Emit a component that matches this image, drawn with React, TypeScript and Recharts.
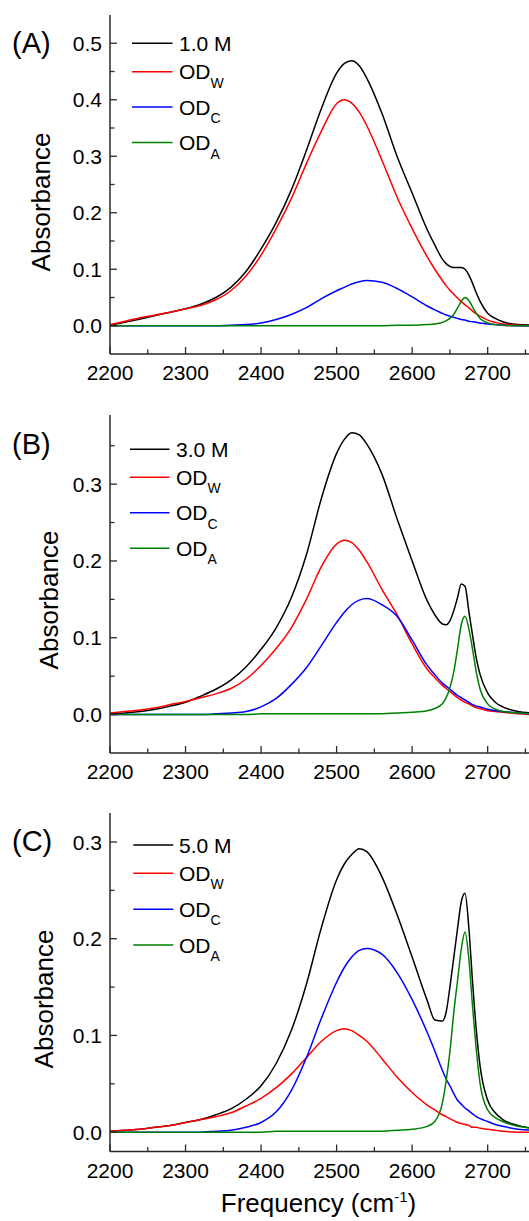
import React from "react";
import { LineChart, Line, XAxis, YAxis } from "recharts";

// ---------- data ----------
const frequency = [2200, 2220, 2240, 2260, 2280, 2300, 2320, 2340, 2360, 2380, 2400, 2420, 2440, 2460, 2480, 2500, 2510, 2520, 2530, 2540, 2560, 2580, 2600, 2620, 2630, 2640, 2645, 2650, 2655, 2660, 2665, 2670, 2675, 2680, 2685, 2690, 2700, 2710, 2720, 2740, 2760];

// Panel A (1.0 M)
const totalA = [0.001, 0.006, 0.012, 0.018, 0.024, 0.030, 0.038, 0.050, 0.068, 0.096, 0.136, 0.183, 0.240, 0.310, 0.385, 0.447, 0.464, 0.469, 0.460, 0.438, 0.376, 0.300, 0.235, 0.170, 0.143, 0.118, 0.110, 0.105, 0.103, 0.103, 0.103, 0.100, 0.090, 0.075, 0.058, 0.043, 0.022, 0.013, 0.007, 0.002, 0.001];
const odWA = [0.002, 0.008, 0.014, 0.019, 0.024, 0.030, 0.036, 0.046, 0.062, 0.088, 0.125, 0.172, 0.225, 0.287, 0.345, 0.393, 0.400, 0.394, 0.378, 0.354, 0.293, 0.228, 0.172, 0.122, 0.100, 0.080, 0.071, 0.063, 0.056, 0.049, 0.043, 0.037, 0.032, 0.026, 0.021, 0.017, 0.010, 0.006, 0.003, 0.001, 0];
const odCA = [0, 0, 0, 0, 0, 0, 0, 0, 0.001, 0.002, 0.005, 0.011, 0.020, 0.032, 0.048, 0.062, 0.068, 0.074, 0.078, 0.080, 0.077, 0.066, 0.051, 0.035, 0.028, 0.022, 0.019, 0.017, 0.015, 0.013, 0.011, 0.010, 0.008, 0.007, 0.006, 0.005, 0.003, 0.002, 0.001, 0, 0];
const odAA = [0, 0, 0, 0, 0, 0, 0, 0, 0, 0, 0, 0, 0, 0, 0, 0, 0, 0, 0, 0, 0, 0.001, 0.001, 0.002, 0.003, 0.006, 0.009, 0.013, 0.020, 0.031, 0.043, 0.050, 0.045, 0.033, 0.022, 0.013, 0.005, 0.002, 0.001, 0, 0];

// Panel B (3.0 M)
const totalB = [0.001, 0.002, 0.004, 0.007, 0.011, 0.016, 0.024, 0.033, 0.045, 0.062, 0.085, 0.113, 0.152, 0.208, 0.282, 0.340, 0.358, 0.367, 0.364, 0.352, 0.313, 0.255, 0.200, 0.148, 0.130, 0.118, 0.117, 0.122, 0.135, 0.152, 0.170, 0.167, 0.135, 0.103, 0.073, 0.052, 0.028, 0.016, 0.010, 0.004, 0.002];
const odWB = [0.002, 0.004, 0.006, 0.009, 0.013, 0.017, 0.022, 0.027, 0.034, 0.046, 0.064, 0.086, 0.113, 0.150, 0.193, 0.222, 0.227, 0.224, 0.214, 0.199, 0.163, 0.130, 0.092, 0.059, 0.048, 0.038, 0.034, 0.030, 0.026, 0.022, 0.019, 0.016, 0.014, 0.011, 0.009, 0.008, 0.005, 0.004, 0.003, 0.001, 0];
const odCB = [0, 0, 0, 0, 0, 0, 0, 0.001, 0.002, 0.004, 0.010, 0.021, 0.039, 0.061, 0.090, 0.120, 0.133, 0.143, 0.149, 0.151, 0.143, 0.128, 0.097, 0.064, 0.052, 0.041, 0.037, 0.033, 0.029, 0.025, 0.022, 0.019, 0.016, 0.013, 0.011, 0.010, 0.007, 0.005, 0.004, 0.002, 0.001];
const odAB = [0, 0, 0, 0, 0, 0, 0, 0, 0, 0, 0.001, 0.001, 0.001, 0.001, 0.001, 0.001, 0.001, 0.001, 0.001, 0.001, 0.001, 0.002, 0.003, 0.005, 0.008, 0.014, 0.022, 0.035, 0.055, 0.085, 0.117, 0.128, 0.112, 0.085, 0.055, 0.033, 0.014, 0.007, 0.004, 0.002, 0.001];

// Panel C (5.0 M)
const totalC = [0.001, 0.002, 0.003, 0.005, 0.007, 0.010, 0.013, 0.018, 0.024, 0.034, 0.048, 0.071, 0.105, 0.153, 0.212, 0.261, 0.277, 0.287, 0.293, 0.290, 0.264, 0.225, 0.181, 0.136, 0.116, 0.115, 0.124, 0.150, 0.180, 0.210, 0.238, 0.247, 0.212, 0.155, 0.105, 0.068, 0.033, 0.020, 0.013, 0.007, 0.004];
const odWC = [0.001, 0.002, 0.003, 0.005, 0.007, 0.010, 0.013, 0.016, 0.020, 0.027, 0.035, 0.046, 0.060, 0.077, 0.094, 0.105, 0.107, 0.105, 0.100, 0.094, 0.076, 0.057, 0.041, 0.028, 0.023, 0.018, 0.016, 0.014, 0.012, 0.010, 0.009, 0.008, 0.007, 0.005, 0.005, 0.004, 0.003, 0.002, 0.001, 0, 0];
const odCC = [0, 0, 0, 0, 0, 0, 0, 0.001, 0.002, 0.005, 0.010, 0.021, 0.043, 0.077, 0.118, 0.155, 0.170, 0.181, 0.188, 0.190, 0.184, 0.165, 0.137, 0.103, 0.084, 0.064, 0.055, 0.048, 0.040, 0.033, 0.029, 0.025, 0.022, 0.019, 0.016, 0.014, 0.011, 0.008, 0.006, 0.003, 0.002];
const odAC = [0, 0, 0, 0, 0, 0, 0, 0, 0, 0, 0, 0.001, 0.001, 0.001, 0.001, 0.001, 0.001, 0.001, 0.001, 0.001, 0.001, 0.002, 0.003, 0.006, 0.011, 0.030, 0.053, 0.083, 0.123, 0.156, 0.189, 0.207, 0.180, 0.130, 0.085, 0.050, 0.023, 0.015, 0.011, 0.006, 0.004];

// ticks / labels
const xMajorTicks = [2200, 2300, 2400, 2500, 2600, 2700];
const xMinorTicks = [2250, 2350, 2450, 2550, 2650, 2750];
const yTicksA = [0, 0.05, 0.1, 0.15, 0.2, 0.25, 0.3, 0.35, 0.4, 0.45, 0.5];
const yTicksB = [0, 0.05, 0.1, 0.15, 0.2, 0.25, 0.3, 0.35];
const yTicksC = [0, 0.05, 0.1, 0.15, 0.2, 0.25, 0.3];
const concLabels = ["1.0 M", "3.0 M", "5.0 M"];
const panelLetters = ["(A)", "(B)", "(C)"];
const componentNames = ["W", "C", "A"];
const seriesColors = ["#000000", "#ff0000", "#0000ff", "#008000"];

const FONT = '"Liberation Sans", Arial, Helvetica, sans-serif';
const AXIS = "#2a2a2a";

const isMajorY = (v: number) => Math.abs(v * 10 - Math.round(v * 10)) < 1e-6;

function XTick(props: any) {
  const { x, y, payload } = props;
  const v = payload.value;
  const major = xMajorTicks.includes(v);
  return (
    <g>
      <line x1={x} y1={y} x2={x} y2={y - (major ? 7 : 4.5)} stroke={AXIS} strokeWidth={1.3} />
      {major && (
        <text x={x} y={y + 26} textAnchor="middle" fontSize={21} fontFamily={FONT} fill="#000">
          {v}
        </text>
      )}
    </g>
  );
}

function YTick(props: any) {
  const { x, y, payload } = props;
  const v = payload.value;
  const major = isMajorY(v);
  return (
    <g>
      <line x1={x} y1={y} x2={x + (major ? 7 : 4.5)} y2={y} stroke={AXIS} strokeWidth={1.3} />
      {major && (
        <text x={x - 8} y={y + 7.5} textAnchor="end" fontSize={21} fontFamily={FONT} fill="#000">
          {v.toFixed(1)}
        </text>
      )}
    </g>
  );
}

type PanelProps = {
  plotTop: number;
  plotH: number;
  domain: [number, number];
  yTicks: number[];
  total: number[];
  w: number[];
  c: number[];
  a: number[];
};

function Panel(p: PanelProps) {
  const rows = frequency.map((f, i) => ({ f, total: p.total[i], w: p.w[i], c: p.c[i], a: p.a[i] }));
  const keys = ["total", "w", "c", "a"];
  return (
    <div style={{ position: "absolute", left: 0, top: p.plotTop - 20 }}>
      <LineChart width={540} height={p.plotH + 60} data={rows} margin={{ top: 20, right: 7, bottom: 0, left: 0 }}>
        <XAxis
          dataKey="f"
          type="number"
          domain={[2200, 2760]}
          ticks={[...xMajorTicks, ...xMinorTicks].sort((m, n) => m - n)}
          interval={0}
          tick={<XTick />}
          tickSize={0}
          tickMargin={0}
          tickLine={false}
          height={40}
          axisLine={{ stroke: AXIS, strokeWidth: 1.5 }}
          allowDataOverflow
        />
        <XAxis
          xAxisId="top"
          dataKey="f"
          type="number"
          orientation="top"
          domain={[2200, 2760]}
          tick={false}
          tickLine={false}
          height={0}
          axisLine={{ stroke: AXIS, strokeWidth: 1.5 }}
          allowDataOverflow
        />
        <YAxis
          type="number"
          domain={p.domain}
          ticks={p.yTicks}
          interval={0}
          tick={<YTick />}
          tickSize={0}
          tickMargin={0}
          tickLine={false}
          width={110}
          axisLine={{ stroke: AXIS, strokeWidth: 1.5 }}
          allowDataOverflow
        />
        {keys.map((k, i) => (
          <Line
            key={k}
            dataKey={k}
            type="monotone"
            stroke={seriesColors[i]}
            strokeWidth={1.5}
            dot={false}
            activeDot={false}
            isAnimationActive={false}
          />
        ))}
      </LineChart>
    </div>
  );
}

type Annot = {
  letterY: number;
  absX: number;
  absY: number;
  rows: number[];
  lineX1: number;
  lineX2: number;
  textX: number;
};

const annots: Annot[] = [
  { letterY: 53, absX: 49.5, absY: 202, rows: [43.3, 71.7, 107, 142.5], lineX1: 132, lineX2: 172.5, textX: 179 },
  { letterY: 453.5, absX: 57.5, absY: 600, rows: [449.3, 477.3, 512.7, 548.3], lineX1: 130, lineX2: 169.5, textX: 176 },
  { letterY: 851, absX: 52.5, absY: 999, rows: [845, 873.3, 909.3, 945], lineX1: 133.3, lineX2: 173.3, textX: 179 },
];

function Overlay() {
  return (
    <svg width={529} height={1221} style={{ position: "absolute", left: 0, top: 0, pointerEvents: "none" }}>
      {annots.map((an, pi) => (
        <g key={pi} fontFamily={FONT} fill="#000">
          <text x={12} y={an.letterY} fontSize={29}>
            {panelLetters[pi]}
          </text>
          <text
            x={an.absX}
            y={an.absY}
            fontSize={26}
            textAnchor="middle"
            transform={`rotate(-90 ${an.absX} ${an.absY})`}
          >
            Absorbance
          </text>
          {an.rows.map((ry, ri) => (
            <g key={ri}>
              <line x1={an.lineX1} x2={an.lineX2} y1={ry} y2={ry} stroke={seriesColors[ri]} strokeWidth={1.5} />
              <text x={an.textX} y={ry + 7.5} fontSize={21}>
                {ri === 0 ? (
                  concLabels[pi]
                ) : (
                  <>
                    OD
                    <tspan dy={8.5} fontSize={14}>
                      {componentNames[ri - 1]}
                    </tspan>
                  </>
                )}
              </text>
            </g>
          ))}
        </g>
      ))}
      <text x={318.5} y={1212} fontSize={26} fontFamily={FONT} textAnchor="middle" fill="#000">
        Frequency (cm
        <tspan dy={-10} fontSize={15}>
          -1
        </tspan>
        <tspan dy={10}>)</tspan>
      </text>
    </svg>
  );
}

export default function App() {
  return (
    <div style={{ position: "absolute", left: 0, top: 0, width: 529, height: 1221, overflow: "hidden", background: "#fff" }}>
      <Panel plotTop={15} plotH={339} domain={[-0.05, 0.55]} yTicks={yTicksA} total={totalA} w={odWA} c={odCA} a={odAA} />
      <Panel plotTop={415} plotH={338} domain={[-0.05, 0.39]} yTicks={yTicksB} total={totalB} w={odWB} c={odCB} a={odAB} />
      <Panel plotTop={813} plotH={338.5} domain={[-0.02, 0.33]} yTicks={yTicksC} total={totalC} w={odWC} c={odCC} a={odAC} />
      <Overlay />
    </div>
  );
}
